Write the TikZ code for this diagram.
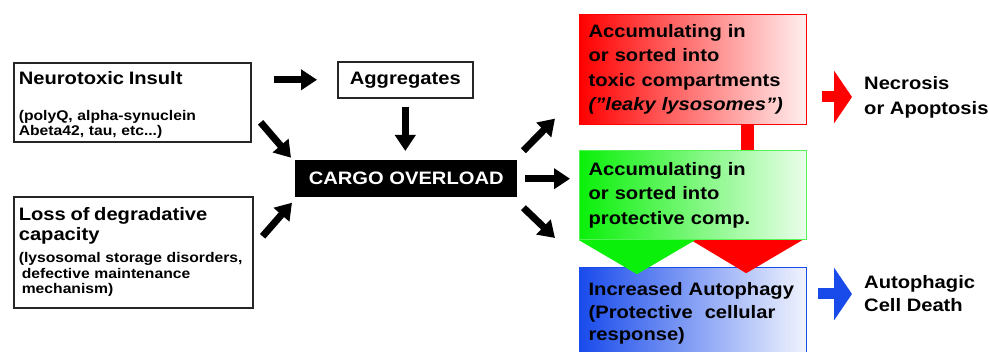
\documentclass[tikz,border=0pt]{standalone}
\usepackage{fontspec}
\setmainfont{Liberation Sans}[FakeStretch=1.12]
\usepackage{tikz}
\usetikzlibrary{arrows.meta}
\definecolor{boxred}{RGB}{255,0,0}
\definecolor{boxgreen}{RGB}{10,240,10}
\definecolor{boxblue}{RGB}{25,75,235}
\newcommand{\headfont}{\fontsize{18}{20}\selectfont}
\newcommand{\notefont}{\fontsize{14}{15.5}\selectfont}
\newcommand{\fixedlines}{\setlength{\lineskiplimit}{-100pt}}
\tikzset{
	plain box/.style={draw=black!85,line width=1.6pt,fill=white,anchor=north west,
		align=left,inner xsep=5pt,font=\bfseries\notefont\fixedlines},
	cargo box/.style={fill=black,text=white,anchor=north west,minimum width=222pt,
		minimum height=37pt,font=\bfseries\fontsize{18}{20}\selectfont},
	color box/.style={anchor=north west,align=left,inner xsep=9pt,minimum width=227pt,
		text width=209pt,line width=1.2pt,font=\bfseries\fontsize{18}{24.5}\selectfont},
	red box/.style={color box,draw=boxred,left color=boxred,right color=boxred!6},
	green box/.style={color box,draw=boxgreen!70,left color=boxgreen,right color=boxgreen!8},
	blue box/.style={color box,draw=boxblue,left color=boxblue,right color=boxblue!6},
	outcome/.style={anchor=west,align=left,inner sep=0pt,font=\bfseries\fontsize{18}{25}\selectfont}
}

\begin{document}
\begin{tikzpicture}[x=1pt,y=-1pt,
		fat arrow/.style={line width=7pt,-{Triangle[length=16pt,width=20pt]}},
		wide arrow/.style={line width=11pt,-{Triangle[length=18pt,width=52pt]}}]
	\useasboundingbox (0,0) rectangle (989,352);
	\clip (0,0) rectangle (989,352);
	% left column
	\node [plain box,minimum width=237pt,minimum height=77pt,text width=227pt] (insult) at (13,62)
		{\headfont\rule{0pt}{18pt}Neurotoxic Insult\\[20.5pt]\notefont (polyQ, alpha-synuclein\\Abeta42, tau, etc...)};
	\node [plain box,minimum width=239pt,minimum height=111pt,text width=229pt] (loss) at (13,196)
		{\headfont Loss of degradative\\[0pt]\headfont capacity\\[6.5pt]\notefont (lysosomal storage disorders,\\
		\hspace*{3pt}defective maintenance\\\hspace*{3pt}mechanism)};
	% middle
	\node [plain box,minimum width=135pt,minimum height=36pt,align=center] (aggr) at (337,61)
		{\headfont Aggregates};
	\node [cargo box] (cargo) at (295,160) {CARGO OVERLOAD};
	% right column
	\node [red box,minimum width=222pt,minimum height=110pt] (toxic) at (579,14)
		{Accumulating in\\or sorted into\\toxic compartments\\\itshape(''leaky lysosomes'')};
	\node [green box,minimum height=89pt] (protect) at (579,150)
		{Accumulating in\\or sorted into\\protective comp.};
	\node [blue box,minimum height=92pt,font=\bfseries\fontsize{18}{22.5}\selectfont] (autoph) at (579,267)
		{Increased Autophagy\\(Protective\ \ cellular\\response)};
	\fill[boxred] ([xshift=-66]toxic.south east) rectangle ([xshift=-53]protect.north east);
	\fill[boxred] ([xshift=-116]protect.south east) -- ([xshift=-5]protect.south east)
		-- ([shift={(-61,33)}]protect.south east) -- cycle;
	\fill[boxgreen] (protect.south west) -- ([xshift=116]protect.south west)
		-- ([shift={(58,34)}]protect.south west) -- cycle;
	\node [outcome] (necro) at (864,97) {Necrosis\\or Apoptosis};
	\node [outcome,font=\bfseries\fontsize{18}{23}\selectfont] (death) at (864,294) {Autophagic\\Cell Death};
	% arrows
	\draw[fat arrow,shorten <=22pt,shorten >=20pt] (insult.east |- aggr.west) -- (aggr.west);
	\draw[fat arrow,shorten <=8pt,shorten >=9pt] (aggr.south) -- (aggr.south |- cargo.north);
	\draw[fat arrow] ([shift={(9,20)}]insult.east) -- ([shift={(-4,-21)}]cargo.west);
	\draw[fat arrow] ([shift={(9,-16)}]loss.east) -- ([shift={(-3,24)}]cargo.west);
	\draw[fat arrow] ([shift={(6,-28)}]cargo.east) -- ([shift={(-24,49)}]toxic.west);
	\draw[fat arrow,shorten <=8pt,shorten >=9pt] (cargo.east) -- (cargo.east -| protect.west);
	\draw[fat arrow] ([shift={(6,29)}]cargo.east) -- ([shift={(-24,-29)}]autoph.north west);
	\draw[wide arrow,boxred,shorten <=15pt,shorten >=12pt] (toxic.east |- necro.west) -- (necro.west);
	\draw[wide arrow,boxblue,shorten <=11pt,shorten >=12pt] (autoph.east |- death.west) -- (death.west);
\end{tikzpicture}
\end{document}
